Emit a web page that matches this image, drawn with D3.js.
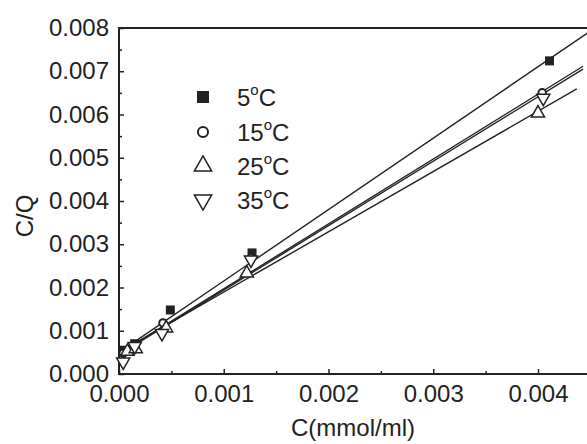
<!DOCTYPE html>
<html>
<head>
<meta charset="utf-8">
<script src="https://cdn.jsdelivr.net/npm/d3@7"></script>
<style>
  body { margin: 0; background: #fff; }
  svg { display: block; font-family: "Liberation Sans", Arial, sans-serif; }
</style>
</head>
<body>
<svg id="chart" width="587" height="444"></svg>
<script>
// series
const seriesNames = ["5", "15", "25", "35"];
const xTicks = [0, 0.001, 0.002, 0.003, 0.004];
const yTicks = [0, 0.001, 0.002, 0.003, 0.004, 0.005, 0.006, 0.007, 0.008];

const c5 = [0.00005, 0.00015, 0.00049, 0.00127, 0.00411];
const q5 = [0.00055, 0.0007, 0.00148, 0.0028, 0.00724];
const c15 = [0.00004, 0.00014, 0.00042, 0.00126, 0.00404];
const q15 = [0.00048, 0.00066, 0.00118, 0.00268, 0.0065];
const c25 = [0.00008, 0.00016, 0.00045, 0.00122, 0.004];
const q25 = [0.00052, 0.00058, 0.00106, 0.00233, 0.00603];
const c35 = [0.00004, 0.00015, 0.00041, 0.00126, 0.00405];
const q35 = [0.00028, 0.00064, 0.00094, 0.00264, 0.00638];

// fitted lines (slope, intercept, x range)
const fitSlope = [1.651, 1.50, 1.394, 1.49];
const fitIntercept = [0.0005, 0.00047, 0.0005, 0.00045];
const fitStart = [0, 0, 0, 0];
const fitEnd = [0.0046, 0.00443, 0.00437, 0.00443];

const xs = [c5, c15, c25, c35];
const ys = [q5, q15, q25, q35];

const svg = d3.select("#chart");
const plotLeft = 119, plotRight = 587, plotTop = 28, plotBottom = 374;
const ink = "#222";

const x = d3.scaleLinear().domain([0, 0.004]).range([plotLeft, 538]);
const y = d3.scaleLinear().domain([0, 0.008]).range([plotBottom, plotTop]);

// marker shapes
const shapes = [
  { type: d3.symbolSquare, size: 81, lsize: 144, fill: ink, rot: 0, sw: 0 },
  { type: d3.symbolCircle, size: 45, lsize: 80, fill: "#fff", rot: 0, sw: 2 },
  { type: d3.symbolTriangle, size: 75, lsize: 130, fill: "#fff", rot: 0, sw: 1.5 },
  { type: d3.symbolTriangle, size: 75, lsize: 130, fill: "#fff", rot: 180, sw: 1.5 }
];

// axes
const fmt = d3.format(".3f");
const minorX = d3.range(0.0005, 0.0046, 0.001);
const minorY = d3.range(0.0005, 0.008, 0.001);

const gx = svg.append("g").attr("transform", `translate(0,${plotBottom})`)
  .call(d3.axisBottom(x).tickValues(xTicks).tickFormat(fmt).tickSizeInner(-5).tickSizeOuter(0).tickPadding(11));
gx.append("g").call(d3.axisBottom(x).tickValues(minorX).tickFormat("").tickSizeInner(-3).tickSizeOuter(0))
  .select(".domain").remove();

const gy = svg.append("g").attr("transform", `translate(${plotLeft},0)`)
  .call(d3.axisLeft(y).tickValues(yTicks).tickFormat(fmt).tickSizeInner(-5).tickSizeOuter(0).tickPadding(10));
gy.append("g").call(d3.axisLeft(y).tickValues(minorY).tickFormat("").tickSizeInner(-3).tickSizeOuter(0))
  .select(".domain").remove();

gx.select(".domain").attr("d", `M${plotLeft - 1},0H${plotRight + 5}`);
gy.select(".domain").attr("d", `M0,${plotBottom + 1}V${plotTop - 1}`);

svg.selectAll(".domain").attr("stroke", ink).attr("stroke-width", 2);
svg.selectAll(".tick line").attr("stroke", ink).attr("stroke-width", 1.5);
svg.selectAll(".tick text").attr("font-size", 24).attr("fill", ink)
  .attr("font-family", "'Liberation Sans', Arial, sans-serif");

// top frame line
svg.append("line")
  .attr("x1", plotLeft - 1).attr("x2", plotRight)
  .attr("y1", y(0.008)).attr("y2", y(0.008))
  .attr("stroke", ink).attr("stroke-width", 2);

// fitted lines
seriesNames.forEach((n, i) => {
  svg.append("line")
    .attr("x1", x(fitStart[i]))
    .attr("y1", y(fitIntercept[i] + fitSlope[i] * fitStart[i]))
    .attr("x2", x(fitEnd[i]))
    .attr("y2", y(fitIntercept[i] + fitSlope[i] * fitEnd[i]))
    .attr("stroke", ink).attr("stroke-width", 1.4);
});

// points
seriesNames.forEach((n, i) => {
  const s = shapes[i];
  svg.append("g").selectAll("path")
    .data(xs[i].map((v, j) => [v, ys[i][j]]))
    .join("path")
    .attr("d", d3.symbol().type(s.type).size(s.size))
    .attr("transform", d => `translate(${x(d[0])},${y(d[1])}) rotate(${s.rot})`)
    .attr("fill", s.fill)
    .attr("stroke", ink)
    .attr("stroke-width", s.sw);
});

// legend
const legendY = [97, 132, 166, 200];
seriesNames.forEach((n, i) => {
  const s = shapes[i];
  svg.append("path")
    .attr("d", d3.symbol().type(s.type).size(s.lsize))
    .attr("transform", `translate(203,${legendY[i]}) rotate(${s.rot})`)
    .attr("fill", s.fill)
    .attr("stroke", ink)
    .attr("stroke-width", s.sw);
  const t = svg.append("text")
    .attr("x", 237).attr("y", legendY[i] + 9)
    .attr("font-size", 24).attr("fill", ink);
  t.append("tspan").text(n);
  t.append("tspan").attr("font-size", 15).attr("dy", -11).text("o");
  t.append("tspan").attr("dy", 11).text("C");
});

// axis titles
svg.append("text")
  .attr("x", 353).attr("y", 436)
  .attr("text-anchor", "middle")
  .attr("font-size", 24).attr("fill", ink)
  .text("C(mmol/ml)");

svg.append("text")
  .attr("transform", "translate(33,216) rotate(-90)")
  .attr("text-anchor", "middle")
  .attr("font-size", 24).attr("fill", ink)
  .text("C/Q");
</script>
</body>
</html>
